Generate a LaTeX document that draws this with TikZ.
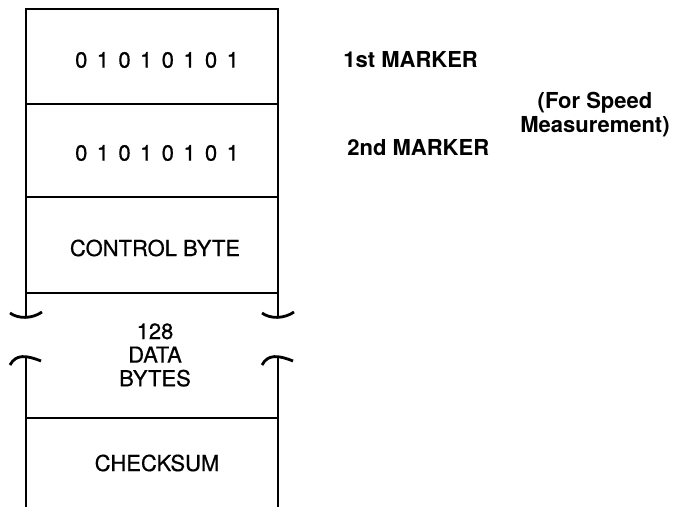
\documentclass[tikz,border=0pt]{standalone}
\usepackage{fontspec}
\setmainfont{TeX Gyre Heros}
\newfontfamily\fieldfont[FakeBold=0.6]{TeX Gyre Heros}
\newcommand{\bitgap}{\hspace{4.7pt}}
\newcommand{\bitrow}{0\bitgap1\bitgap0\bitgap1\bitgap0\bitgap1\bitgap0\bitgap1}
\begin{document}
\begin{tikzpicture}[x=0.5pt, y=-0.5pt, line width=1.4pt,
  field/.style={font=\fieldfont\fontsize{11}{11.8}\selectfont, align=center, inner sep=0pt},
  marker/.style={font=\fontsize{11}{12}\selectfont\bfseries, align=center, inner sep=0pt}]

\useasboundingbox (0,0) rectangle (684,507);

% Frame
\draw (26,316) -- (26,9) -- (278,9) -- (278,316);
\draw (26,357) -- (26,507);
\draw (278,357) -- (278,507);

% Field borders
\foreach \y in {104,197,293,418}
    \draw (26,\y) -- (278,\y);

% Break marks
\foreach \x in {26,278} {
    \draw (\x-16,313) .. controls (\x-8,319) and (\x+6,319) .. (\x+16,312);
    \draw (\x-16,365) .. controls (\x-10,354) and (\x,355) .. (\x+15,361);
}

% Fields
\node[field] (marker1) at (157,60) {\bitrow};
\node[field] (marker2) at (157,153) {\bitrow};
\node[field] (control) at (155,248) {CONTROL BYTE};
\node[field] (data) at (155,355) {128\\DATA\\BYTES};
\node[field] (checksum) at (157,463) {CHECKSUM};

% Labels
\node[marker, anchor=west] (label1) at (342,60) {1st MARKER};
\node[marker, anchor=west] (label2) at (346,148) {2nd MARKER};
\node[marker] (speed) at (595,115) {(For Speed\\Measurement)};

\end{tikzpicture}
\end{document}
